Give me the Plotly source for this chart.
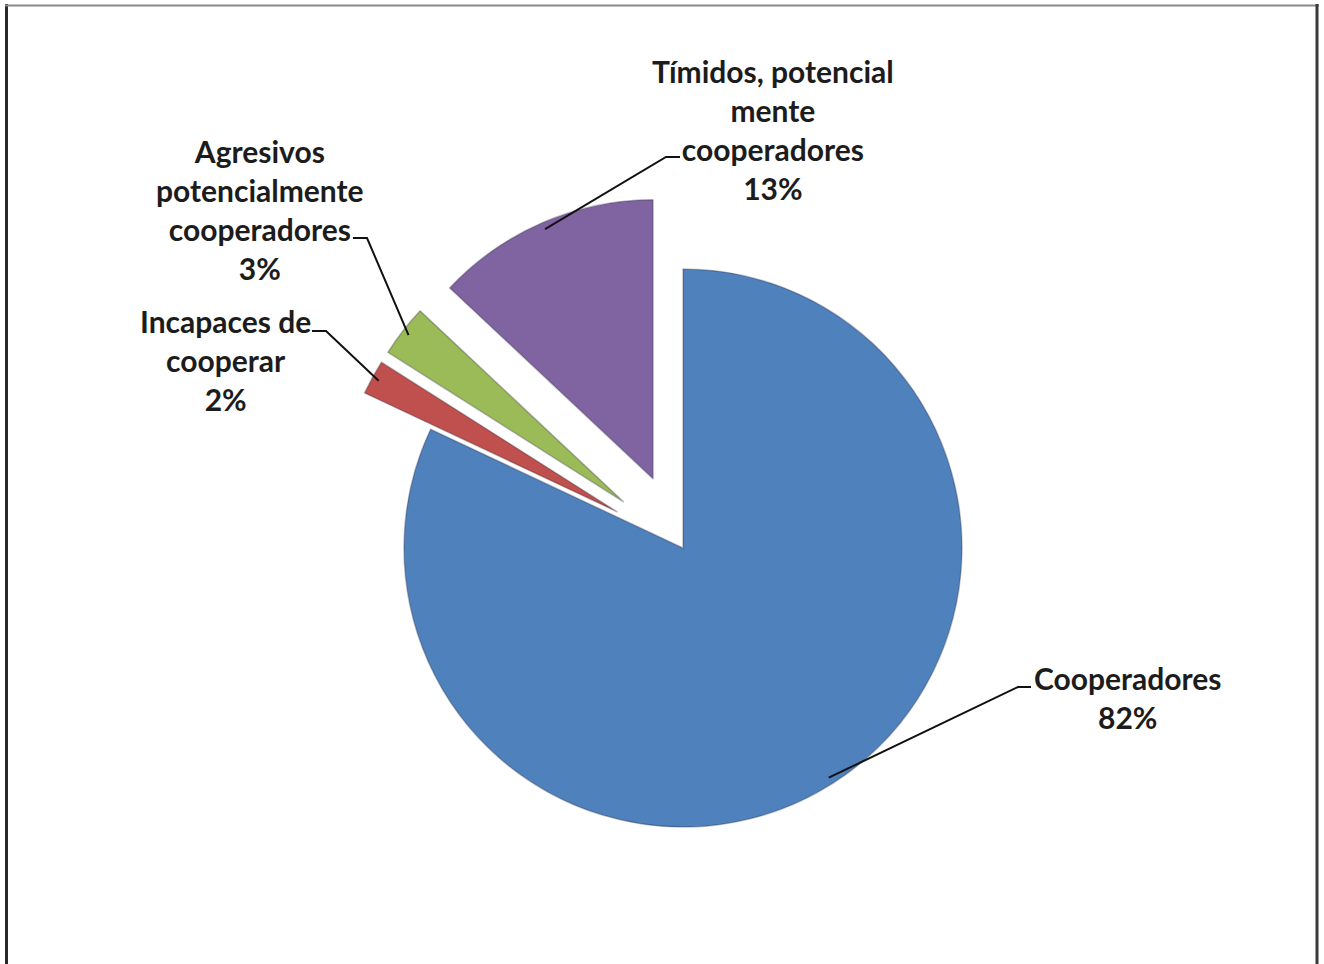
import math
import plotly.graph_objects as go

# ---------------- data ----------------
labels = ["Cooperadores", "Incapaces de cooperar",
          "Agresivos potencialmente cooperadores",
          "Tímidos, potencial mente cooperadores"]
label_text = ["Cooperadores", "Incapaces de<br>cooperar",
              "Agresivos<br>potencialmente<br>cooperadores",
              "Tímidos, potencial<br>mente<br>cooperadores"]
values = [82, 2, 3, 13]
colors = ["#4F81BD", "#C0504D", "#9BBB59", "#8064A2"]
pulls = [0, 0.27, 0.27, 0.27]

# ---------------- layout geometry (page pixels) ----------------
W, H = 1324, 964                     # figure size (body margin removed)
CX, CY, R = 683, 548, 279            # pie centre and radius in pixels
box = 2 * R * (1 + max(pulls))       # plotly: r = min(box)/(2+2*maxPull)


def px(x):
    return x / W


def py(y):
    return 1 - y / H


dom_x = [px(CX - box / 2), px(CX + box / 2)]
dom_y = [py(CY + box / 2), py(CY - box / 2)]

# label block centres and leader elbow segments (pixels)
label_pos = [(1128, 697), (225, 360), (260, 209), (773, 130)]
elbow = [((1018, 687), (1031, 687)),
         ((312, 331), (326, 331)),
         ((353, 238), (367, 238)),
         ((666, 157), (680, 157))]

fig = go.Figure(go.Pie(
    labels=labels,
    values=values,
    sort=False,
    direction="clockwise",
    rotation=0,
    pull=pulls,
    marker=dict(colors=colors, line=dict(color="rgba(40,40,60,0.3)", width=1.5)),
    textinfo="none",
    hoverinfo="label+percent",
    domain=dict(x=dom_x, y=dom_y),
    showlegend=False,
))

total = sum(values)
cum = 0
shapes = []
annotations = []
for i, v in enumerate(values):
    mid = 2 * math.pi * (cum + v / 2) / total
    cum += v
    dx, dy = math.sin(mid), -math.cos(mid)
    dist = pulls[i] * R + 0.975 * R
    ax_, ay_ = CX + dx * dist, CY + dy * dist
    (e1x, e1y), (e2x, e2y) = elbow[i]
    if abs(e1x - ax_) < abs(e2x - ax_):
        near, far = (e1x, e1y), (e2x, e2y)
    else:
        near, far = (e2x, e2y), (e1x, e1y)
    path = (f"M {px(ax_)} {py(ay_)} L {px(near[0])} {py(near[1])} "
            f"L {px(far[0])} {py(far[1])}")
    shapes.append(dict(type="path", xref="paper", yref="paper", path=path,
                       line=dict(color="#111111", width=2)))
    pct = round(100 * v / total)
    annotations.append(dict(
        x=px(label_pos[i][0]), y=py(label_pos[i][1]), xref="paper", yref="paper",
        text=f"{label_text[i]}<br>{pct}%", showarrow=False,
        xanchor="center", yanchor="middle", align="center",
        font=dict(family="Lato", size=30, color="#1c1c1c", weight="bold"),
    ))

# slide frame
shapes += [
    dict(type="line", xref="paper", yref="paper", x0=px(6.5), x1=px(6.5), y0=py(4), y1=py(970),
         line=dict(color="#2a2a2a", width=3)),
    dict(type="line", xref="paper", yref="paper", x0=px(5), x1=px(1319), y0=py(5.5), y1=py(5.5),
         line=dict(color="#8a8a8a", width=2)),
    dict(type="line", xref="paper", yref="paper", x0=px(1317), x1=px(1317), y0=py(4), y1=py(970),
         line=dict(color="#3a3a3a", width=3)),
]

fig.update_layout(
    width=W, height=H,
    margin=dict(l=0, r=0, t=0, b=0),
    paper_bgcolor="white",
    plot_bgcolor="white",
    shapes=shapes,
    annotations=annotations,
)

fig.write_html(
    "out.html",
    config={"displayModeBar": False},
    post_script="document.body.style.margin='0';document.body.style.overflow='hidden';",
)
